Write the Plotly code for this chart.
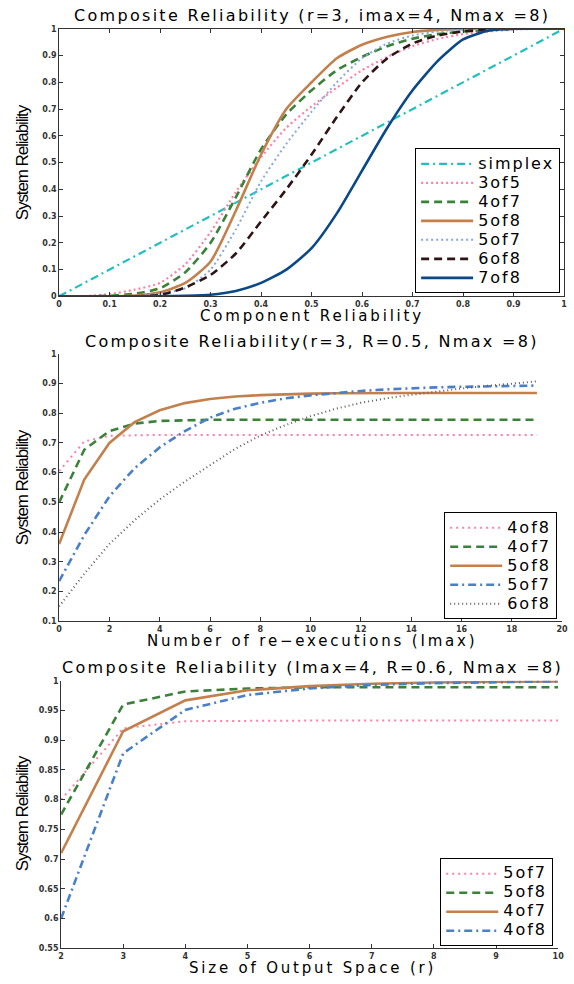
import plotly.graph_objects as go

# ---------- Panel 1 data ----------
comp_rel = [0, 0.05, 0.1, 0.15, 0.2, 0.25, 0.3, 0.35, 0.4, 0.45, 0.5,
            0.55, 0.6, 0.65, 0.7, 0.75, 0.8, 0.85, 0.9, 0.95, 1]
p1_simplex = [0, 0.05, 0.1, 0.15, 0.2, 0.25, 0.3, 0.35, 0.4, 0.45, 0.5,
              0.55, 0.6, 0.65, 0.7, 0.75, 0.8, 0.85, 0.9, 0.95, 1]
p1_3of5 = [0, 0.001, 0.008, 0.025, 0.05, 0.12, 0.24, 0.39, 0.52, 0.63, 0.71,
           0.78, 0.845, 0.895, 0.935, 0.962, 0.98, 0.99, 0.997, 1, 1]
p1_4of7 = [0, 0, 0.002, 0.01, 0.03, 0.09, 0.2, 0.37, 0.55, 0.68, 0.77,
           0.845, 0.895, 0.935, 0.963, 0.98, 0.99, 0.996, 1, 1, 1]
p1_5of8 = [0, 0, 0, 0.003, 0.015, 0.05, 0.13, 0.32, 0.53, 0.70, 0.80,
           0.89, 0.94, 0.97, 0.988, 0.996, 0.999, 1, 1, 1, 1]
p1_5of7 = [0, 0, 0, 0.002, 0.01, 0.03, 0.1, 0.25, 0.43, 0.57, 0.69,
           0.80, 0.89, 0.945, 0.975, 0.99, 0.997, 1, 1, 1, 1]
p1_6of8 = [0, 0, 0, 0, 0.005, 0.033, 0.08, 0.16, 0.28, 0.40, 0.53,
           0.67, 0.80, 0.89, 0.945, 0.975, 0.99, 0.997, 1, 1, 1]
p1_7of8 = [0, 0, 0, 0, 0.0005, 0.002, 0.006, 0.02, 0.05, 0.10, 0.18,
           0.31, 0.47, 0.63, 0.77, 0.88, 0.96, 0.993, 1, 1, 1]

# ---------- Panel 2 data ----------
imax = list(range(0, 20))
p2_4of8 = [0.605, 0.705, 0.724, 0.726, 0.727, 0.727, 0.727, 0.727, 0.727, 0.727,
           0.727, 0.727, 0.727, 0.727, 0.727, 0.727, 0.727, 0.727, 0.727, 0.727]
p2_4of7 = [0.50, 0.677, 0.74, 0.765, 0.774, 0.777, 0.778, 0.778, 0.778, 0.778,
           0.778, 0.778, 0.778, 0.778, 0.778, 0.778, 0.778, 0.778, 0.778, 0.778]
p2_5of8 = [0.36, 0.577, 0.70, 0.77, 0.81, 0.834, 0.848, 0.856, 0.861, 0.864,
           0.866, 0.867, 0.868, 0.868, 0.868, 0.868, 0.868, 0.868, 0.868, 0.868]
p2_5of7 = [0.235, 0.39, 0.52, 0.615, 0.685, 0.74, 0.785, 0.815, 0.835, 0.85,
           0.86, 0.868, 0.875, 0.88, 0.884, 0.887, 0.889, 0.891, 0.892, 0.893]
p2_6of8 = [0.15, 0.26, 0.36, 0.44, 0.51, 0.57, 0.625, 0.68, 0.725, 0.76,
           0.79, 0.815, 0.835, 0.85, 0.862, 0.873, 0.883, 0.892, 0.90, 0.907]

# ---------- Panel 3 data ----------
out_space = [2, 3, 4, 5, 6, 7, 8, 9, 10]
p3_5of7 = [0.80, 0.92, 0.932, 0.933, 0.933, 0.933, 0.933, 0.933, 0.933]
p3_5of8 = [0.775, 0.96, 0.982, 0.987, 0.989, 0.989, 0.989, 0.989, 0.989]
p3_4of7 = [0.71, 0.915, 0.967, 0.984, 0.991, 0.995, 0.997, 0.998, 0.999]
p3_4of8 = [0.60, 0.878, 0.951, 0.976, 0.987, 0.993, 0.996, 0.998, 0.999]

# ---------- text ----------
panel_titles = ["Composite Reliability (r=3, imax=4, Nmax =8)",
                "Composite Reliability(r=3, R=0.5, Nmax =8)",
                "Composite Reliability (Imax=4, R=0.6, Nmax =8)"]
x_titles = ["Component Reliability", "Number of re\u2212executions (Imax)",
            "Size of Output Space (r)"]
y_title = "System Reliability"

# ---------- styles ----------
C_CYAN = "#22bfbf"
C_PINK = "#ff7fa6"
C_GREEN = "#3a823a"
C_BROWN = "#c4804c"
C_LBLUE = "#85a8e0"
C_DARK = "#2e1414"
C_NAVY = "#0a4888"
C_BLUE = "#4a80c8"
C_GRAY = "#6a5a5a"

W, H = 574, 984
FONT = "DejaVu Sans, Liberation Sans, Arial, sans-serif"


def wide(t, size=16, ls=2.0):
    return f"<span style='font-size:{size}px;letter-spacing:{ls}px'>{t}</span>"


fig = go.Figure()


def add(x, y, name, color, dash, width, xa, ya, legend, shape="linear"):
    fig.add_trace(go.Scatter(
        x=x, y=y, name=wide(name, 16, 2.0), mode="lines",
        line=dict(color=color, dash=dash, width=width, shape=shape,
                  smoothing=0.6 if shape == "spline" else None),
        xaxis=xa, yaxis=ya, legend=legend))


# panel 1
add(comp_rel, p1_simplex, "simplex", C_CYAN, "8px,4px,2px,4px", 2.2, "x", "y", "legend")
add(comp_rel, p1_3of5, "3of5", C_PINK, "2px,3px", 2.2, "x", "y", "legend", "spline")
add(comp_rel, p1_4of7, "4of7", C_GREEN, "8px,5px", 2.6, "x", "y", "legend", "spline")
add(comp_rel, p1_5of8, "5of8", C_BROWN, "solid", 2.6, "x", "y", "legend", "spline")
add(comp_rel, p1_5of7, "5of7", C_LBLUE, "2px,3px", 2.0, "x", "y", "legend", "spline")
add(comp_rel, p1_6of8, "6of8", C_DARK, "8px,5px", 2.6, "x", "y", "legend", "spline")
add(comp_rel, p1_7of8, "7of8", C_NAVY, "solid", 2.6, "x", "y", "legend", "spline")

# panel 2
add(imax, p2_4of8, "4of8", C_PINK, "2px,4px", 2.0, "x2", "y2", "legend2")
add(imax, p2_4of7, "4of7", C_GREEN, "8px,5px", 2.6, "x2", "y2", "legend2")
add(imax, p2_5of8, "5of8", C_BROWN, "solid", 2.6, "x2", "y2", "legend2")
add(imax, p2_5of7, "5of7", C_BLUE, "8px,4px,2px,4px", 2.6, "x2", "y2", "legend2")
add(imax, p2_6of8, "6of8", C_GRAY, "1px,3px", 2.0, "x2", "y2", "legend2")

# panel 3
add(out_space, p3_5of7, "5of7", C_PINK, "2px,4px", 2.0, "x3", "y3", "legend3")
add(out_space, p3_5of8, "5of8", C_GREEN, "8px,5px", 2.6, "x3", "y3", "legend3")
add(out_space, p3_4of7, "4of7", C_BROWN, "solid", 2.6, "x3", "y3", "legend3")
add(out_space, p3_4of8, "4of8", C_BLUE, "8px,4px,2px,4px", 2.6, "x3", "y3", "legend3")


def px_x(a, b):
    return [a / W, b / W]


def px_y(top, bottom):
    return [1 - bottom / H, 1 - top / H]


tickfont = dict(family="DejaVu Sans, Arial", size=8, color="#333", weight="bold")
common = dict(showgrid=False, zeroline=False, ticks="inside", ticklen=4,
              tickwidth=1, tickcolor="#333", linecolor="#333", linewidth=1,
              showline=True, tickfont=tickfont, ticklabeloverflow="allow")

t01 = [0, .1, .2, .3, .4, .5, .6, .7, .8, .9, 1]
t01_lbl = ["0", "0.1", "0.2", "0.3", "0.4", "0.5", "0.6", "0.7", "0.8", "0.9", "1"]
t2 = [.1, .2, .3, .4, .5, .6, .7, .8, .9, 1]
t2_lbl = ["0.1", "0.2", "0.3", "0.4", "0.5", "0.6", "0.7", "0.8", "0.9", "1"]
t3 = [.55, .6, .65, .7, .75, .8, .85, .9, .95, 1]
t3_lbl = ["0.55", "0.6", "0.65", "0.7", "0.75", "0.8", "0.85", "0.9", "0.95", "1"]

fig.update_layout(
    width=W, height=H, margin=dict(l=0, r=0, t=0, b=0),
    paper_bgcolor="white", plot_bgcolor="white",
    font=dict(family=FONT, color="black"),
    xaxis=dict(domain=px_x(57, 570), range=[0, 1], tickvals=t01, ticktext=t01_lbl,
               anchor="y", mirror="ticks", **common),
    yaxis=dict(domain=px_y(25, 295), range=[0, 1], tickvals=t01, ticktext=t01_lbl,
               anchor="x", mirror="ticks", **common),
    xaxis2=dict(domain=px_x(57, 568), range=[0, 20], dtick=2, anchor="y2", **common),
    yaxis2=dict(domain=px_y(353, 623), range=[0.1, 1], tickvals=t2, ticktext=t2_lbl,
                anchor="x2", **common),
    xaxis3=dict(domain=px_x(59, 564), range=[2, 10], dtick=1, anchor="y3", **common),
    yaxis3=dict(domain=px_y(683, 953), range=[0.55, 1], tickvals=t3, ticktext=t3_lbl,
                anchor="x3", **common),
)

leg_common = dict(bgcolor="white", bordercolor="black", borderwidth=1,
                  font=dict(family=FONT, size=12, color="black"),
                  xanchor="right", yanchor="bottom", itemwidth=52)
fig.update_layout(
    legend=dict(x=566 / W, y=1 - 292 / H, **leg_common),
    legend2=dict(x=563 / W, y=1 - 621 / H, **leg_common),
    legend3=dict(x=559 / W, y=1 - 951 / H, **leg_common),
    showlegend=True,
)

for t, yc in zip(panel_titles, [12, 341, 670]):
    fig.add_annotation(text=wide(t, 16, 2.3), x=314 / W, y=1 - yc / H,
                       xref="paper", yref="paper", showarrow=False,
                       xanchor="center", yanchor="middle",
                       font=dict(family=FONT, size=16, color="black"))
for t, yc in zip(x_titles, [315, 643, 973]):
    fig.add_annotation(text=wide(t, 15, 2.8), x=314 / W, y=1 - yc / H,
                       xref="paper", yref="paper", showarrow=False,
                       xanchor="center", yanchor="middle",
                       font=dict(family=FONT, size=15, color="black"))
for yc in [160, 488, 817]:
    fig.add_annotation(text=wide(y_title, 17, -1.1), x=20 / W, y=1 - yc / H,
                       xref="paper", yref="paper", showarrow=False,
                       xanchor="center", yanchor="middle", textangle=-90,
                       font=dict(family="Liberation Sans, Arial", size=17, color="black"))

fig.write_html("out.html", post_script="document.body.style.margin='0';",
               config={"displayModeBar": False})
